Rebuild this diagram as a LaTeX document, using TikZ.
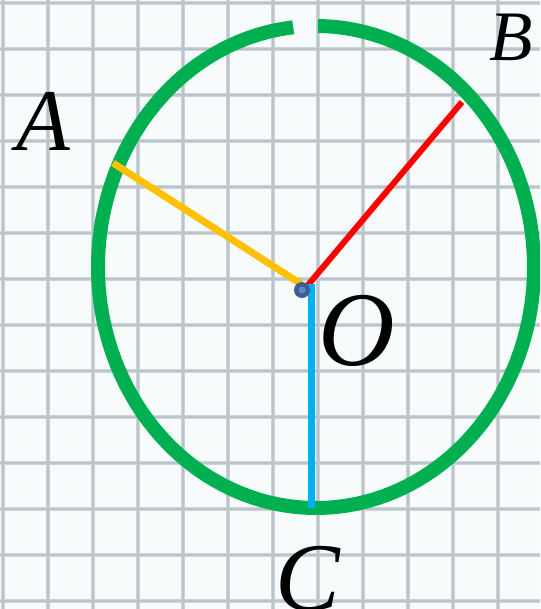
\documentclass[tikz,border=0pt]{standalone}
\usepackage{fontspec}
\setmainfont{Liberation Serif}
\definecolor{gridc}{RGB}{204,211,217}
\definecolor{gridd}{RGB}{188,196,203}
\definecolor{bgc}{RGB}{247,251,252}
\definecolor{ringc}{RGB}{0,176,80}
\definecolor{yelc}{RGB}{255,192,0}
\definecolor{redc}{RGB}{255,0,0}
\definecolor{bluc}{RGB}{0,176,240}
\definecolor{dotc}{RGB}{58,95,150}
\definecolor{dotin}{RGB}{95,135,190}
\tikzset{
  gridline/.style={draw=gridc,line width=4pt},
  gridcore/.style={draw=gridd,line width=1.6pt},
  ring/.style={draw=ringc,line width=14pt},
  radius line/.style={line width=7pt,line cap=butt},
  lbl/.style={inner sep=0pt,font=\itshape}
}
\begin{document}
\begin{tikzpicture}[x=1pt,y=-1pt]
\useasboundingbox (0,0) rectangle (540,609);
\fill[bgc] (0,0) rectangle (540,609);
\begin{scope}
\clip (0,0) rectangle (540,609);
\foreach \i in {0,...,12} \draw[gridline] ({3+45*\i},0) -- ({3+45*\i},609);
\foreach \j in {0,...,13} \draw[gridline] (0,{3+46*\j}) -- (540,{3+46*\j});
\foreach \i in {0,...,12} \draw[gridcore] ({3+45*\i},0) -- ({3+45*\i},609);
\foreach \j in {0,...,13} \draw[gridcore] (0,{3+46*\j}) -- (540,{3+46*\j});
\draw[ring] plot[domain=270.5:624,samples=240] ({316+218*cos(\x)},{267+241*sin(\x)});
\end{scope}
\coordinate (Apt) at (113,163);
\coordinate (Bpt) at (462,102);
\coordinate (Cpt) at (311,508);
\coordinate (Oy) at (301,284);
\coordinate (Or) at (308,285);
\coordinate (Ob) at (311,284);
\coordinate (Ocen) at (302,290);
\draw[radius line,draw=yelc] (Apt) -- (Oy);
\draw[radius line,draw=redc,line width=6pt] (Bpt) -- (Or);
\draw[radius line,draw=bluc] (Ob) -- (Cpt);
\fill[dotc] (Ocen) circle (8);
\fill[dotin] (Ocen) circle (3.5);
\node[lbl,font=\fontsize{88}{90}\selectfont\itshape] (A) at (43,121) {A};
\node[lbl,font=\fontsize{71}{73}\selectfont\itshape] (B) at (511,37) {B};
\node[lbl,font=\fontsize{106}{108}\selectfont\itshape] (O) at (357,331) {O};
\node[lbl,font=\fontsize{97}{99}\selectfont\itshape] (C) at (308,579) {C};
\end{tikzpicture}
\end{document}
